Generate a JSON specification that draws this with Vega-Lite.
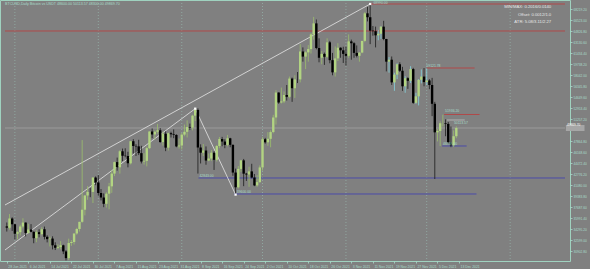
{
"$schema":"https://vega.github.io/schema/vega-lite/v6.json",
"width":570,"height":261,"autosize":{"type":"none"},"padding":{"left":0,"top":0,"right":20,"bottom":8},
"background":"#808080",
"config":{"view":{"stroke":"#9fd2bf","strokeWidth":1},"text":{"font":"Liberation Sans"},"axis":{"labelFont":"Liberation Sans"}},
"resolve":{"axis":{"x":"independent","y":"independent"}},
"datasets":{
"candles":[
{"d":"2021-06-28","o":34700,"h":35300,"l":33900,"c":34500},
{"d":"2021-06-29","o":34500,"h":36600,"l":34200,"c":35900},
{"d":"2021-06-30","o":35900,"h":36100,"l":34000,"c":35040},
{"d":"2021-07-01","o":35040,"h":35040,"l":32700,"c":33570},
{"d":"2021-07-02","o":33570,"h":33950,"l":32700,"c":33800},
{"d":"2021-07-03","o":33800,"h":34950,"l":33300,"c":34680},
{"d":"2021-07-04","o":34680,"h":35950,"l":34400,"c":35290},
{"d":"2021-07-05","o":35290,"h":35290,"l":33150,"c":33690},
{"d":"2021-07-06","o":33690,"h":35100,"l":33550,"c":34220},
{"d":"2021-07-07","o":34220,"h":35050,"l":33780,"c":33860},
{"d":"2021-07-08","o":33860,"h":33920,"l":32100,"c":32880},
{"d":"2021-07-09","o":32880,"h":34100,"l":32260,"c":33810},
{"d":"2021-07-10","o":33810,"h":34260,"l":33010,"c":33510},
{"d":"2021-07-11","o":33510,"h":34590,"l":33310,"c":34260},
{"d":"2021-07-12","o":34260,"h":34670,"l":32680,"c":33090},
{"d":"2021-07-13","o":33090,"h":33330,"l":32230,"c":32730},
{"d":"2021-07-14","o":32730,"h":33150,"l":31600,"c":32820},
{"d":"2021-07-15","o":32820,"h":33170,"l":31150,"c":31780},
{"d":"2021-07-16","o":31780,"h":32250,"l":31050,"c":31400},
{"d":"2021-07-17","o":31400,"h":31950,"l":31180,"c":31530},
{"d":"2021-07-18","o":31530,"h":32420,"l":31150,"c":31780},
{"d":"2021-07-19","o":31780,"h":31880,"l":30420,"c":30840},
{"d":"2021-07-20","o":30840,"h":31040,"l":29450,"c":29800},
{"d":"2021-07-21","o":29800,"h":32800,"l":29500,"c":32130},
{"d":"2021-07-22","o":32130,"h":32600,"l":31700,"c":32290},
{"d":"2021-07-23","o":32290,"h":33600,"l":31900,"c":33600},
{"d":"2021-07-24","o":33600,"h":34480,"l":33400,"c":34300},
{"d":"2021-07-25","o":34300,"h":35400,"l":33900,"c":35400},
{"d":"2021-07-26","o":35400,"h":48000,"l":35250,"c":37270},
{"d":"2021-07-27","o":37270,"h":39540,"l":36400,"c":39460},
{"d":"2021-07-28","o":39460,"h":40900,"l":38800,"c":40020},
{"d":"2021-07-29","o":40020,"h":40600,"l":39200,"c":40010},
{"d":"2021-07-30","o":40010,"h":42300,"l":38300,"c":42230},
{"d":"2021-07-31","o":42230,"h":42400,"l":41050,"c":41460},
{"d":"2021-08-01","o":41460,"h":42600,"l":39420,"c":39850},
{"d":"2021-08-02","o":39850,"h":40450,"l":38700,"c":39150},
{"d":"2021-08-03","o":39150,"h":39780,"l":37660,"c":38180},
{"d":"2021-08-04","o":38180,"h":39970,"l":37600,"c":39740},
{"d":"2021-08-05","o":39740,"h":41400,"l":37330,"c":40870},
{"d":"2021-08-06","o":40870,"h":43350,"l":39870,"c":42840},
{"d":"2021-08-07","o":42840,"h":44700,"l":42450,"c":44610},
{"d":"2021-08-08","o":44610,"h":45310,"l":43300,"c":43810},
{"d":"2021-08-09","o":43810,"h":46450,"l":42830,"c":46280},
{"d":"2021-08-10","o":46280,"h":46700,"l":44780,"c":45590},
{"d":"2021-08-11","o":45590,"h":46740,"l":45360,"c":45550},
{"d":"2021-08-12","o":45550,"h":46200,"l":43800,"c":44420},
{"d":"2021-08-13","o":44420,"h":47880,"l":44250,"c":47830},
{"d":"2021-08-14","o":47830,"h":48150,"l":45970,"c":47100},
{"d":"2021-08-15","o":47100,"h":47370,"l":45550,"c":47040},
{"d":"2021-08-16","o":47040,"h":48050,"l":45700,"c":45990},
{"d":"2021-08-17","o":45990,"h":47120,"l":44400,"c":44700},
{"d":"2021-08-18","o":44700,"h":46000,"l":44220,"c":44800},
{"d":"2021-08-19","o":44800,"h":47000,"l":43950,"c":46760},
{"d":"2021-08-20","o":46760,"h":49350,"l":46650,"c":49330},
{"d":"2021-08-21","o":49330,"h":49800,"l":48290,"c":48870},
{"d":"2021-08-22","o":48870,"h":49500,"l":48100,"c":49290},
{"d":"2021-08-23","o":49290,"h":50500,"l":49000,"c":49520},
{"d":"2021-08-24","o":49520,"h":49850,"l":47600,"c":47700},
{"d":"2021-08-25","o":47700,"h":49300,"l":47150,"c":48990},
{"d":"2021-08-26","o":48990,"h":49350,"l":46300,"c":46840},
{"d":"2021-08-27","o":46840,"h":49150,"l":46400,"c":49070},
{"d":"2021-08-28","o":49070,"h":49300,"l":48400,"c":48900},
{"d":"2021-08-29","o":48900,"h":49650,"l":48300,"c":48800},
{"d":"2021-08-30","o":48800,"h":48900,"l":46900,"c":47030},
{"d":"2021-08-31","o":47030,"h":48250,"l":46700,"c":47170},
{"d":"2021-09-01","o":47170,"h":49100,"l":46550,"c":48850},
{"d":"2021-09-02","o":48850,"h":50400,"l":48600,"c":49280},
{"d":"2021-09-03","o":49280,"h":51050,"l":48400,"c":50030},
{"d":"2021-09-04","o":50030,"h":50550,"l":49550,"c":49940},
{"d":"2021-09-05","o":49940,"h":51900,"l":49500,"c":51770},
{"d":"2021-09-06","o":51770,"h":52850,"l":50950,"c":52660},
{"d":"2021-09-07","o":52660,"h":52900,"l":42840,"c":46860},
{"d":"2021-09-08","o":46860,"h":47350,"l":44400,"c":46060},
{"d":"2021-09-09","o":46060,"h":47400,"l":45550,"c":46400},
{"d":"2021-09-10","o":46400,"h":47030,"l":44200,"c":44850},
{"d":"2021-09-11","o":44850,"h":45950,"l":44750,"c":45160},
{"d":"2021-09-12","o":45160,"h":46460,"l":44760,"c":46060},
{"d":"2021-09-13","o":46060,"h":46300,"l":43400,"c":44960},
{"d":"2021-09-14","o":44960,"h":47250,"l":44700,"c":47090},
{"d":"2021-09-15","o":47090,"h":48480,"l":46750,"c":48170},
{"d":"2021-09-16","o":48170,"h":48500,"l":47050,"c":47780},
{"d":"2021-09-17","o":47780,"h":48130,"l":46750,"c":47270},
{"d":"2021-09-18","o":47270,"h":48800,"l":47050,"c":48280},
{"d":"2021-09-19","o":48280,"h":48360,"l":46900,"c":47270},
{"d":"2021-09-20","o":47270,"h":47330,"l":42500,"c":43000},
{"d":"2021-09-21","o":43000,"h":43600,"l":39600,"c":40730},
{"d":"2021-09-22","o":40730,"h":44000,"l":40550,"c":43560},
{"d":"2021-09-23","o":43560,"h":44950,"l":43100,"c":44880},
{"d":"2021-09-24","o":44880,"h":45100,"l":40900,"c":42830},
{"d":"2021-09-25","o":42830,"h":42950,"l":41700,"c":42700},
{"d":"2021-09-26","o":42700,"h":43900,"l":40800,"c":43180},
{"d":"2021-09-27","o":43180,"h":44350,"l":42100,"c":42230},
{"d":"2021-09-28","o":42230,"h":42780,"l":40900,"c":41020},
{"d":"2021-09-29","o":41020,"h":42600,"l":40800,"c":41520},
{"d":"2021-09-30","o":41520,"h":44100,"l":41400,"c":43790},
{"d":"2021-10-01","o":43790,"h":48450,"l":43300,"c":48140},
{"d":"2021-10-02","o":48140,"h":48350,"l":47450,"c":47660},
{"d":"2021-10-03","o":47660,"h":49230,"l":47120,"c":48200},
{"d":"2021-10-04","o":48200,"h":49500,"l":46900,"c":49240},
{"d":"2021-10-05","o":49240,"h":51900,"l":49050,"c":51490},
{"d":"2021-10-06","o":51490,"h":55700,"l":50400,"c":55340},
{"d":"2021-10-07","o":55340,"h":55350,"l":53600,"c":53800},
{"d":"2021-10-08","o":53800,"h":56100,"l":53650,"c":53970},
{"d":"2021-10-09","o":53970,"h":55500,"l":53700,"c":54960},
{"d":"2021-10-10","o":54960,"h":56500,"l":54100,"c":54680},
{"d":"2021-10-11","o":54680,"h":57800,"l":54440,"c":57490},
{"d":"2021-10-12","o":57490,"h":57650,"l":53900,"c":56000},
{"d":"2021-10-13","o":56000,"h":58000,"l":54500,"c":57370},
{"d":"2021-10-14","o":57370,"h":58500,"l":56800,"c":57360},
{"d":"2021-10-15","o":57360,"h":62800,"l":56900,"c":61670},
{"d":"2021-10-16","o":61670,"h":62300,"l":60100,"c":60880},
{"d":"2021-10-17","o":60880,"h":61700,"l":58950,"c":61530},
{"d":"2021-10-18","o":61530,"h":62650,"l":60100,"c":62040},
{"d":"2021-10-19","o":62040,"h":64480,"l":61350,"c":64300},
{"d":"2021-10-20","o":64300,"h":67000,"l":63500,"c":66000},
{"d":"2021-10-21","o":66000,"h":66600,"l":62000,"c":62200},
{"d":"2021-10-22","o":62200,"h":63700,"l":60000,"c":60700},
{"d":"2021-10-23","o":60700,"h":61750,"l":59700,"c":61300},
{"d":"2021-10-24","o":61300,"h":61500,"l":59600,"c":60850},
{"d":"2021-10-25","o":60850,"h":63700,"l":60650,"c":63080},
{"d":"2021-10-26","o":63080,"h":63300,"l":59850,"c":60330},
{"d":"2021-10-27","o":60330,"h":61450,"l":58000,"c":58450},
{"d":"2021-10-28","o":58450,"h":62450,"l":57800,"c":60600},
{"d":"2021-10-29","o":60600,"h":62950,"l":60200,"c":62250},
{"d":"2021-10-30","o":62250,"h":62300,"l":60700,"c":61850},
{"d":"2021-10-31","o":61850,"h":62400,"l":59900,"c":61300},
{"d":"2021-11-01","o":61300,"h":62400,"l":59500,"c":61000},
{"d":"2021-11-02","o":61000,"h":64300,"l":60700,"c":63220},
{"d":"2021-11-03","o":63220,"h":63500,"l":60400,"c":62940},
{"d":"2021-11-04","o":62940,"h":63100,"l":60700,"c":61450},
{"d":"2021-11-05","o":61450,"h":62600,"l":60750,"c":61000},
{"d":"2021-11-06","o":61000,"h":61550,"l":60100,"c":61500},
{"d":"2021-11-07","o":61500,"h":63300,"l":61400,"c":63300},
{"d":"2021-11-08","o":63300,"h":67750,"l":63100,"c":67550},
{"d":"2021-11-09","o":67550,"h":68550,"l":66300,"c":66950},
{"d":"2021-11-10","o":66950,"h":68990,"l":62800,"c":64880},
{"d":"2021-11-11","o":64880,"h":65600,"l":64100,"c":64800},
{"d":"2021-11-12","o":64800,"h":65500,"l":62300,"c":64160},
{"d":"2021-11-13","o":64160,"h":65000,"l":63400,"c":64400},
{"d":"2021-11-14","o":64400,"h":65550,"l":63600,"c":65500},
{"d":"2021-11-15","o":65500,"h":66400,"l":63400,"c":63600},
{"d":"2021-11-16","o":63600,"h":63600,"l":58600,"c":60100},
{"d":"2021-11-17","o":60100,"h":60800,"l":58400,"c":60400},
{"d":"2021-11-18","o":60400,"h":60900,"l":56500,"c":56900},
{"d":"2021-11-19","o":56900,"h":58400,"l":55600,"c":58100},
{"d":"2021-11-20","o":58100,"h":59850,"l":57400,"c":59700},
{"d":"2021-11-21","o":59700,"h":60000,"l":58500,"c":58700},
{"d":"2021-11-22","o":58700,"h":59300,"l":55600,"c":56300},
{"d":"2021-11-23","o":56300,"h":57850,"l":55300,"c":57550},
{"d":"2021-11-24","o":57550,"h":57700,"l":55900,"c":57150},
{"d":"2021-11-25","o":57150,"h":59400,"l":56800,"c":58950},
{"d":"2021-11-26","o":58950,"h":59150,"l":53600,"c":53750},
{"d":"2021-11-27","o":53750,"h":55300,"l":53600,"c":54750},
{"d":"2021-11-28","o":54750,"h":57400,"l":53350,"c":57300},
{"d":"2021-11-29","o":57300,"h":58900,"l":56750,"c":57800},
{"d":"2021-11-30","o":57800,"h":59121,"l":56300,"c":56950},
{"d":"2021-12-01","o":56950,"h":59050,"l":56500,"c":57200},
{"d":"2021-12-02","o":57200,"h":57400,"l":55850,"c":56500},
{"d":"2021-12-03","o":56500,"h":57600,"l":51700,"c":53600},
{"d":"2021-12-04","o":53600,"h":53900,"l":42000,"c":49200},
{"d":"2021-12-05","o":49200,"h":49700,"l":47800,"c":49400},
{"d":"2021-12-06","o":49400,"h":50900,"l":47100,"c":50600},
{"d":"2021-12-07","o":50600,"h":51936,"l":50100,"c":50600},
{"d":"2021-12-08","o":50600,"h":51200,"l":48600,"c":50500},
{"d":"2021-12-09","o":50500,"h":50800,"l":47400,"c":47650},
{"d":"2021-12-10","o":47650,"h":50100,"l":46908,"c":47200},
{"d":"2021-12-11","o":47200,"h":49500,"l":46950,"c":48600},
{"d":"2021-12-12","o":48600,"h":50113,"l":48300,"c":49869}
],
"months":[{"d":"2021-07-01"},{"d":"2021-08-01"},{"d":"2021-09-01"},{"d":"2021-10-01"},{"d":"2021-11-01"},{"d":"2021-12-01"},{"d":"2022-01-01"}],
"hlines":[
{"d":"2021-11-10","d2":"2022-01-21T09:00:00Z","p":68990,"k":"red"},
{"d":"2021-06-27T08:00:00Z","d2":"2022-01-21T09:00:00Z","p":64827,"k":"red"},
{"d":"2021-12-01","d2":"2021-12-18T19:00:00Z","p":59121,"k":"red"},
{"d":"2021-12-07T11:00:00Z","d2":"2021-12-20T15:00:00Z","p":51951,"k":"red"},
{"d":"2021-12-08T13:00:00Z","d2":"2021-12-15T03:00:00Z","p":51103,"k":"grey"},
{"d":"2021-06-27T08:00:00Z","d2":"2022-01-21T09:00:00Z","p":49869,"k":"bid"},
{"d":"2021-12-06T17:00:00Z","d2":"2021-12-15T20:00:00Z","p":47094,"k":"blue"},
{"d":"2021-09-07T05:00:00Z","d2":"2022-01-21T09:00:00Z","p":42159,"k":"blue"},
{"d":"2021-09-20T09:00:00Z","d2":"2021-12-19T12:00:00Z","p":39692,"k":"blue"}
],
"diag":[
{"d":"2021-06-27T08:00:00Z","p":37996,"d2":"2021-11-10","p2":68990},
{"d":"2021-06-27T08:00:00Z","p":31057,"d2":"2021-09-06","p2":52850},
{"d":"2021-09-06","p":52850,"d2":"2021-09-21","p2":39600}
],
"pts":[{"d":"2021-09-06","p":52850},{"d":"2021-09-21","p":39600},{"d":"2021-11-10","p":68990}],
"plabels":[
{"d":"2021-11-10T20:00:00Z","p":69150,"t":"68990.00"},
{"d":"2021-11-30T12:00:00Z","p":59430,"t":"59121.78"},
{"d":"2021-12-07T11:00:00Z","p":52490,"t":"51936.20"},
{"d":"2021-12-10T18:00:00Z","p":50640,"t":"50113.57"},
{"d":"2021-12-06T17:00:00Z","p":47400,"t":"46908.00"},
{"d":"2021-09-07T05:00:00Z","p":42470,"t":"42843.00"},
{"d":"2021-09-21T02:00:00Z","p":40000,"t":"39600.00"}
],
"title":[{"d":"2021-06-27T09:00:00Z","p":68990,"t":"BTCUSD,Daily  Bitcoin vs USDT  48600.00 50113.57 48300.00 49869.70"}],
"info":[
{"d":"2022-01-16T06:00:00Z","p":68528,"t":"MIN/MAX:  0.2016/0.0140"},
{"d":"2022-01-16T06:00:00Z","p":67294,"t":"Offset:  0.0012/1.0"},
{"d":"2022-01-16T06:00:00Z","p":66215,"t":"ATR:  5.08/3.11/2.27"}
],
"bidbox":[{"d":"2022-01-21T17:00:00Z","d2":"2022-01-28T15:00:00Z","p":50332,"p2":49407,"t":"49869.70"}]
},
"layer":[
{"data":{"name":"months"},"mark":{"type":"rule","strokeDash":[1,2],"strokeWidth":0.6,"color":"#a3d3c3","opacity":0.8},
 "encoding":{"x":{"field":"d","type":"temporal","scale":{"type":"utc","domain":[{"year":2021,"month":6,"date":27,"hours":8,"utc":true},{"year":2022,"month":1,"date":21,"hours":9,"utc":true}]},"axis":null}}},
{"data":{"name":"hlines"},"mark":{"type":"rule","strokeWidth":1},
 "encoding":{"x":{"field":"d","type":"temporal","axis":null},"x2":{"field":"d2"},
  "y":{"field":"p","type":"quantitative","scale":{"domain":[29360,69607],"nice":false,"zero":false},"axis":null},
  "color":{"field":"k","type":"nominal","legend":null,"scale":{"domain":["red","grey","bid","blue"],"range":["#b04848","#b4b4b4","#9a9a9a","#4a4aa8"]}}}},
{"data":{"name":"diag"},"mark":{"type":"rule","strokeWidth":0.8,"color":"#e6e6e6"},
 "encoding":{"x":{"field":"d","type":"temporal","axis":null},"x2":{"field":"d2"},"y":{"field":"p","type":"quantitative","axis":null},"y2":{"field":"p2"}}},
{"data":{"name":"candles"},"mark":{"type":"rule","strokeWidth":0.8},
 "encoding":{"x":{"field":"d","type":"temporal","axis":null},"y":{"field":"l","type":"quantitative","axis":null},"y2":{"field":"h"},
  "color":{"condition":[{"test":"datum.c >= datum.o && time(datum.d) >= utc(2021,10,11) && time(datum.d) <= utc(2021,11,1)","value":"#86d6e0"},{"test":"datum.c >= datum.o","value":"#9cbf6c"}],"value":"#1a1a1a"}}},
{"data":{"name":"candles"},"mark":{"type":"bar","size":2.4},
 "encoding":{"x":{"field":"d","type":"temporal","axis":{"title":null,"values":[{"year":2021,"month":6,"date":28,"utc":true},{"year":2021,"month":7,"date":6,"utc":true},{"year":2021,"month":7,"date":14,"utc":true},{"year":2021,"month":7,"date":22,"utc":true},{"year":2021,"month":7,"date":30,"utc":true},{"year":2021,"month":8,"date":7,"utc":true},{"year":2021,"month":8,"date":15,"utc":true},{"year":2021,"month":8,"date":23,"utc":true},{"year":2021,"month":8,"date":31,"utc":true},{"year":2021,"month":9,"date":8,"utc":true},{"year":2021,"month":9,"date":16,"utc":true},{"year":2021,"month":9,"date":24,"utc":true},{"year":2021,"month":10,"date":2,"utc":true},{"year":2021,"month":10,"date":10,"utc":true},{"year":2021,"month":10,"date":18,"utc":true},{"year":2021,"month":10,"date":26,"utc":true},{"year":2021,"month":11,"date":3,"utc":true},{"year":2021,"month":11,"date":11,"utc":true},{"year":2021,"month":11,"date":19,"utc":true},{"year":2021,"month":11,"date":27,"utc":true},{"year":2021,"month":12,"date":5,"utc":true},{"year":2021,"month":12,"date":13,"utc":true}],"format":"%-d %b %Y","labelAlign":"left","labelBaseline":"top","labelPadding":1,"labelOffset":1,"labelFontSize":3.4,"labelColor":"#a8dccb","tickColor":"#a8dccb","tickSize":2,"tickWidth":0.8,"domain":false,"grid":false,"labelOverlap":false,"labelBound":false,"labelFlush":false}},
  "y":{"field":"o","type":"quantitative","axis":{"title":null,"orient":"right","values":[68219.2,66523.0,64826.8,63130.6,61434.4,59738.2,58042.0,56345.8,54649.6,52953.4,51257.2,47864.8,46168.6,44472.4,42776.2,41080.0,39383.8,37687.6,35991.4,34295.2,32599.0,30902.8],"format":".2f","labelAlign":"left","labelBaseline":"middle","labelPadding":1,"labelFontSize":3.2,"labelColor":"#a8dccb","tickColor":"#a8dccb","tickSize":2,"tickWidth":0.8,"domain":false,"grid":false,"labelOverlap":false,"labelBound":false,"labelFlush":false}},
  "y2":{"field":"c"},
  "color":{"condition":{"test":"datum.c >= datum.o","value":"#b2d482"},"value":"#000000"}}},
{"data":{"name":"pts"},"mark":{"type":"square","size":5,"filled":true,"color":"#ffffff","opacity":1},
 "encoding":{"x":{"field":"d","type":"temporal","axis":null},"y":{"field":"p","type":"quantitative","axis":null}}},
{"data":{"name":"plabels"},"mark":{"type":"text","align":"left","baseline":"middle","fontSize":3.4,"color":"#a8dccb","dx":1},
 "encoding":{"x":{"field":"d","type":"temporal","axis":null},"y":{"field":"p","type":"quantitative","axis":null},"text":{"field":"t"}}},
{"data":{"name":"title"},"mark":{"type":"text","align":"left","baseline":"middle","fontSize":3.6,"color":"#a8dccb"},
 "encoding":{"x":{"field":"d","type":"temporal","axis":null},"y":{"field":"p","type":"quantitative","axis":null},"text":{"field":"t"}}},
{"data":{"name":"info"},"mark":{"type":"text","align":"right","baseline":"middle","fontSize":4.2,"color":"#e8e8e8"},
 "encoding":{"x":{"field":"d","type":"temporal","axis":null},"y":{"field":"p","type":"quantitative","axis":null},"text":{"field":"t"}}},
{"data":{"name":"bidbox"},"mark":{"type":"rect","color":"#a6a6a6"},
 "encoding":{"x":{"field":"d","type":"temporal","axis":null},"x2":{"field":"d2"},"y":{"field":"p","type":"quantitative","axis":null},"y2":{"field":"p2"}}},
{"data":{"name":"bidbox"},"mark":{"type":"text","align":"left","baseline":"middle","fontSize":3.2,"color":"#ffffff","dx":1},
 "encoding":{"x":{"field":"d","type":"temporal","axis":null},"y":{"field":"p","type":"quantitative","axis":null},"text":{"field":"t"}}}
]
}
